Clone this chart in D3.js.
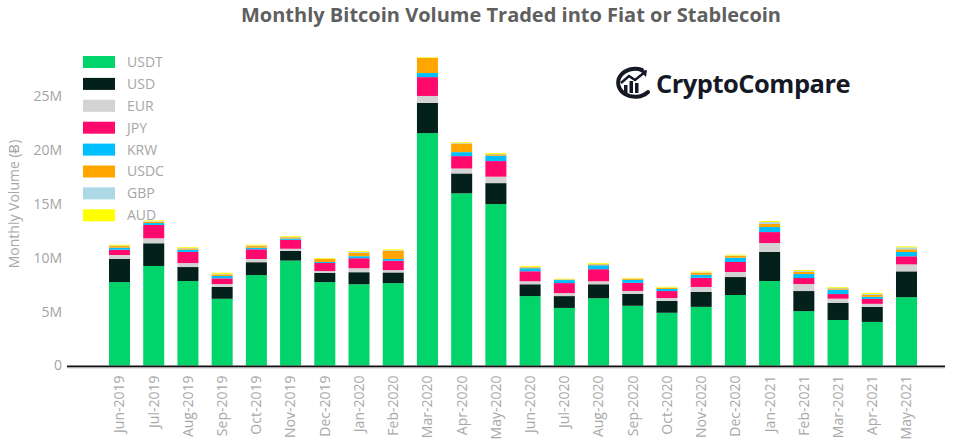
<!DOCTYPE html>
<html>
<head>
<meta charset="utf-8">
<script src="https://cdn.jsdelivr.net/npm/d3@7"></script>
<style>
  html, body { margin: 0; padding: 0; background: #fff; }
  svg { display: block; }
</style>
</head>
<body>
<svg id="chart" width="960" height="448"></svg>
<script>
// ---- Data (millions of BTC) ----
const months = ["Jun-2019","Jul-2019","Aug-2019","Sep-2019","Oct-2019","Nov-2019","Dec-2019","Jan-2020","Feb-2020","Mar-2020","Apr-2020","May-2020","Jun-2020","Jul-2020","Aug-2020","Sep-2020","Oct-2020","Nov-2020","Dec-2020","Jan-2021","Feb-2021","Mar-2021","Apr-2021","May-2021"];
const seriesNames = ["USDT","USD","EUR","JPY","KRW","USDC","GBP","AUD"];
const seriesColors = ["#00d46a","#03201b","#d3d3d3","#ff0a6c","#00bfff","#ffa500","#add8e6","#ffff00"];
const USDT = [7.75,9.25,7.85,6.2,8.4,9.75,7.75,7.55,7.65,21.6,16.0,15.0,6.45,5.35,6.25,5.55,4.9,5.45,6.55,7.85,5.05,4.23,4.05,6.35];
const USD  = [2.15,2.11,1.3,1.1,1.2,0.9,0.85,1.12,1.0,2.8,1.85,1.95,1.1,1.1,1.3,1.1,1.1,1.4,1.67,2.7,1.87,1.58,1.4,2.4];
const EUR  = [0.37,0.46,0.37,0.27,0.3,0.2,0.18,0.37,0.22,0.65,0.46,0.6,0.28,0.28,0.28,0.28,0.27,0.45,0.47,0.83,0.65,0.4,0.28,0.65];
const JPY  = [0.49,1.24,1.03,0.53,0.9,0.83,0.75,0.93,0.87,1.75,1.15,1.45,0.93,0.93,1.12,0.75,0.65,0.85,0.93,1.02,0.56,0.43,0.46,0.75];
const KRW  = [0.19,0.18,0.21,0.22,0.15,0.12,0.09,0.19,0.16,0.38,0.37,0.5,0.28,0.28,0.37,0.28,0.19,0.28,0.4,0.47,0.37,0.41,0.19,0.4];
const USDC = [0.15,0.12,0.12,0.15,0.15,0.12,0.28,0.3,0.77,1.4,0.8,0.13,0.09,0.05,0.09,0.09,0.1,0.19,0.17,0.28,0.19,0.12,0.18,0.25];
const GBP  = [0.05,0.05,0.05,0.05,0.05,0.05,0.03,0.1,0.05,0.03,0.05,0.04,0.04,0.03,0.04,0.04,0.04,0.04,0.04,0.18,0.09,0.06,0.09,0.18];
const AUD  = [0.08,0.07,0.07,0.1,0.08,0.07,0.06,0.09,0.08,0.06,0.07,0.08,0.08,0.05,0.08,0.06,0.07,0.07,0.07,0.1,0.1,0.07,0.1,0.09];
const yTicks = [0,5,10,15,20,25];
const yTickLabels = ["0","5M","10M","15M","20M","25M"];
const titleText = "Monthly Bitcoin Volume Traded into Fiat or Stablecoin";
const yTitleText = "Monthly Volume (Ƀ)";

const seriesValues = [USDT,USD,EUR,JPY,KRW,USDC,GBP,AUD];
const table = months.map((m,i) => {
  const row = {month: m};
  seriesNames.forEach((s,k) => row[s] = seriesValues[k][i]);
  return row;
});

const svg = d3.select("#chart");
const FONT = "'Open Sans', 'DejaVu Sans', sans-serif";

const x = d3.scaleBand().domain(months).range([102.4, 923.6]).paddingInner(0.386).paddingOuter(0.193);
const y = d3.scaleLinear().domain([0, 30]).range([365.5, 365.5 - 30*10.76]);
const color = d3.scaleOrdinal().domain(seriesNames).range(seriesColors);

const stacked = d3.stack().keys(seriesNames)(table);

// Bars
svg.append("g").selectAll("g").data(stacked).join("g")
  .attr("fill", d => color(d.key))
  .selectAll("rect").data(d => d).join("rect")
  .attr("x", d => x(d.data.month))
  .attr("width", x.bandwidth())
  .attr("y", d => y(d[1]))
  .attr("height", d => y(d[0]) - y(d[1]));

// Y axis (labels only)
const yAxis = d3.axisLeft(y).tickValues(yTicks).tickFormat((d,i) => yTickLabels[i]).tickSize(0).tickPadding(0);
const gy = svg.append("g").attr("transform", "translate(62,0)").call(yAxis);
gy.select(".domain").remove();
gy.selectAll("text").attr("fill", "#a3a3a3").style("font-family", FONT).style("font-size", "14px");

// X axis baseline
svg.append("line").attr("x1", 67).attr("x2", 945).attr("y1", y(0)+1).attr("y2", y(0)+1)
  .attr("stroke", "#111").attr("stroke-width", 2);
svg.append("line").attr("x1", 67).attr("x2", 945).attr("y1", y(0)+2.5).attr("y2", y(0)+2.5)
  .attr("stroke", "#cfcfcf").attr("stroke-width", 1);

// X labels
const xAxis = d3.axisBottom(x).tickSize(0).tickPadding(0);
const gx = svg.append("g").attr("transform", `translate(0,${y(0)})`).call(xAxis);
gx.select(".domain").remove();
gx.selectAll("text")
  .attr("transform", "rotate(-90)")
  .attr("x", -10).attr("y", 0).attr("dy", "0.35em")
  .attr("text-anchor", "end")
  .attr("fill", "#a8a8a8")
  .style("font-family", FONT).style("font-size", "14px");

// Title
svg.append("text").attr("x", 511).attr("y", 22).attr("text-anchor", "middle")
  .attr("fill", "#5f5f5f").style("font-family", FONT).style("font-weight", "700").style("font-size", "20px")
  .text(titleText);

// Y title
svg.append("text").attr("transform", "translate(19,204) rotate(-90)").attr("text-anchor", "middle")
  .attr("fill", "#a8a8a8").style("font-family", FONT).style("font-size", "14px")
  .text(yTitleText);

// Legend
const lg = svg.append("g").attr("transform", "translate(83,56)");
const li = lg.selectAll("g").data(seriesNames).join("g").attr("transform", (d,i) => `translate(0,${i*21.9})`);
li.append("rect").attr("width", 32).attr("height", 12).attr("fill", d => color(d));
li.append("text").attr("x", 44).attr("y", 6).attr("dy", "0.35em").attr("fill", "#a6a6a6")
  .style("font-family", FONT).style("font-size", "14px").text(d => d);

// Logo
const logo = svg.append("g").attr("transform", "translate(612,66)");
logo.append("path").attr("d", "M 30 4 A 17 14 0 1 0 36 26").attr("fill", "none").attr("stroke", "#151925").attr("stroke-width", 4).attr("stroke-linecap", "round");
logo.append("rect").attr("x", 12).attr("y", 19).attr("width", 3.5).attr("height", 8).attr("fill", "#151925");
logo.append("rect").attr("x", 17.5).attr("y", 15).attr("width", 3.5).attr("height", 12).attr("fill", "#151925");
logo.append("rect").attr("x", 23).attr("y", 17).attr("width", 3.5).attr("height", 10).attr("fill", "#151925");
logo.append("path").attr("d", "M 9 17 L 17 10 L 23 14 L 33 6").attr("fill", "none").attr("stroke", "#151925").attr("stroke-width", 2.5);
logo.append("path").attr("d", "M 28 5 L 35 4 L 34 11 Z").attr("fill", "#151925");
svg.append("text").attr("x", 656).attr("y", 93).attr("fill", "#151925")
  .style("font-family", FONT).style("font-weight", "700").style("font-size", "25.5px").style("letter-spacing", "-0.5px")
  .text("CryptoCompare");
</script>
</body>
</html>
